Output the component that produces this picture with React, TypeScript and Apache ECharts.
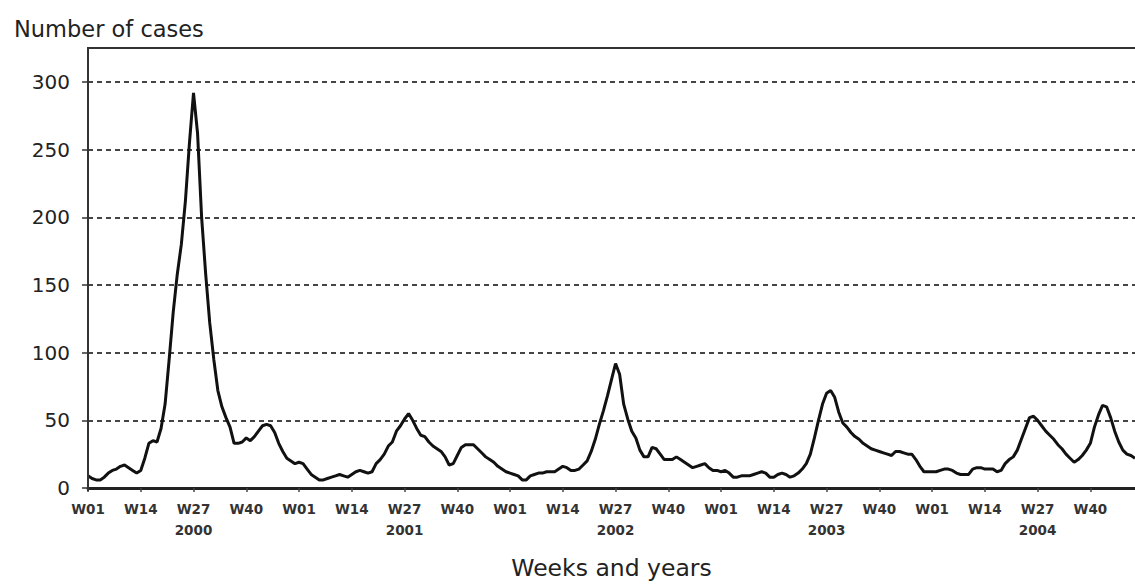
import React, { useEffect, useRef } from "react";
import * as echarts from "echarts";

// Weekly number of cases (W01..W52 per year)
const cases2000 = [9, 7, 6, 6, 8, 11, 13, 14, 16, 17, 15, 13, 11, 13, 22, 33, 35, 34, 44, 62, 95, 130, 158, 180, 212, 255, 292, 262, 200, 158, 122, 95, 72, 60, 52, 45, 33, 33, 34, 37, 35, 38, 42, 46, 47, 46, 41, 33, 27, 22, 20, 18];
const cases2001 = [19, 18, 14, 10, 8, 6, 6, 7, 8, 9, 10, 9, 8, 10, 12, 13, 12, 11, 12, 18, 21, 25, 31, 34, 42, 46, 51, 55, 50, 44, 39, 38, 34, 31, 29, 27, 23, 17, 18, 24, 30, 32, 32, 32, 29, 26, 23, 21, 19, 16, 14, 12];
const cases2002 = [11, 10, 9, 6, 6, 9, 10, 11, 11, 12, 12, 12, 14, 16, 15, 13, 13, 14, 17, 20, 27, 36, 47, 57, 68, 80, 92, 84, 62, 51, 42, 37, 28, 23, 23, 30, 29, 25, 21, 21, 21, 23, 21, 19, 17, 15, 16, 17, 18, 15, 13, 13];
const cases2003 = [12, 13, 11, 8, 8, 9, 9, 9, 10, 11, 12, 11, 8, 8, 10, 11, 10, 8, 9, 11, 14, 18, 25, 37, 50, 62, 70, 72, 67, 56, 48, 45, 41, 38, 36, 33, 31, 29, 28, 27, 26, 25, 24, 27, 27, 26, 25, 25, 21, 16, 12, 12];
const cases2004 = [12, 12, 13, 14, 14, 13, 11, 10, 10, 10, 14, 15, 15, 14, 14, 14, 12, 13, 18, 21, 23, 28, 36, 44, 52, 53, 50, 46, 42, 39, 36, 32, 29, 25, 22, 19, 21, 24, 28, 33, 45, 54, 61, 60, 52, 42, 34, 28, 25, 24, 22];

const years = [2000, 2001, 2002, 2003, 2004];
const yearSeries = [cases2000, cases2001, cases2002, cases2003, cases2004];
const labelledWeeks = [1, 14, 27, 40];
const yearLabelWeek = 27;
const yTicks = [0, 50, 100, 150, 200, 250, 300];

const pad = (n: number) => (n < 10 ? "0" + n : "" + n);

const categories: string[] = [];
const values: number[] = [];
years.forEach((y, yi) => {
  yearSeries[yi].forEach((v, wi) => {
    categories.push(y + "|W" + pad(wi + 1));
    values.push(v);
  });
});

const weekOf = (cat: string) => parseInt(cat.split("|W")[1], 10);

const FONT = "'DejaVu Sans', 'Liberation Sans', Arial, sans-serif";

export default function App() {
  const ref = useRef<HTMLDivElement>(null);
  useEffect(() => {
    document.body.style.margin = "0";
    if (!ref.current) return;
    const chart = echarts.init(ref.current, undefined, { renderer: "svg" });
    const showIdx = (index: number) => labelledWeeks.indexOf(weekOf(categories[index])) >= 0;
    chart.setOption({
      animation: false,
      backgroundColor: "#ffffff",
      textStyle: { fontFamily: FONT },
      title: {
        text: "Number of cases",
        left: 9,
        top: 12,
        textStyle: { fontSize: 22.5, fontWeight: "normal", color: "#222", fontFamily: FONT },
      },
      grid: { left: 88, right: 0, top: 82, bottom: 94, containLabel: false },
      xAxis: {
        type: "category",
        data: categories,
        boundaryGap: false,
        name: "Weeks and years",
        nameLocation: "middle",
        nameGap: 68,
        nameTextStyle: { fontSize: 23.5, color: "#222", fontFamily: FONT },
        axisLine: { lineStyle: { color: "#222", width: 3 } },
        axisTick: {
          show: true,
          interval: (index: number) => showIdx(index),
          length: 4,
          lineStyle: { color: "#444", width: 1.5 },
        },
        axisLabel: {
          interval: (index: number) => showIdx(index),
          margin: 10,
          fontSize: 13.5,
          fontWeight: "bold",
          color: "#333",
          lineHeight: 21,
          fontFamily: FONT,
          formatter: (val: string) => {
            const [y, w] = val.split("|");
            return weekOf(val) === yearLabelWeek ? w + "\n" + y : w;
          },
        },
        splitLine: { show: false },
      },
      yAxis: {
        type: "value",
        min: yTicks[0],
        max: yTicks[yTicks.length - 1],
        interval: yTicks[1] - yTicks[0],
        axisLine: { show: true, lineStyle: { color: "#222", width: 2 } },
        axisTick: { show: true, inside: false, length: 6, lineStyle: { color: "#333", width: 1.5 } },
        axisLabel: { fontSize: 20, color: "#222", margin: 18, fontFamily: FONT },
        splitLine: {
          show: true,
          lineStyle: { color: "#444", width: 2, type: [5, 4] },
        },
      },
      graphic: [
        {
          type: "polyline",
          shape: { points: [[88, 491], [88, 48], [1135, 48]] },
          style: { stroke: "#333", lineWidth: 2, fill: "none" },
          silent: true,
          z: 10,
        },
      ],
      series: [
        {
          type: "line",
          data: values,
          showSymbol: false,
          symbol: "none",
          smooth: false,
          lineStyle: { color: "#111", width: 3 },
          z: 5,
        },
      ],
    });
    return () => chart.dispose();
  }, []);
  return <div ref={ref} style={{ width: 1135, height: 585 }} />;
}
